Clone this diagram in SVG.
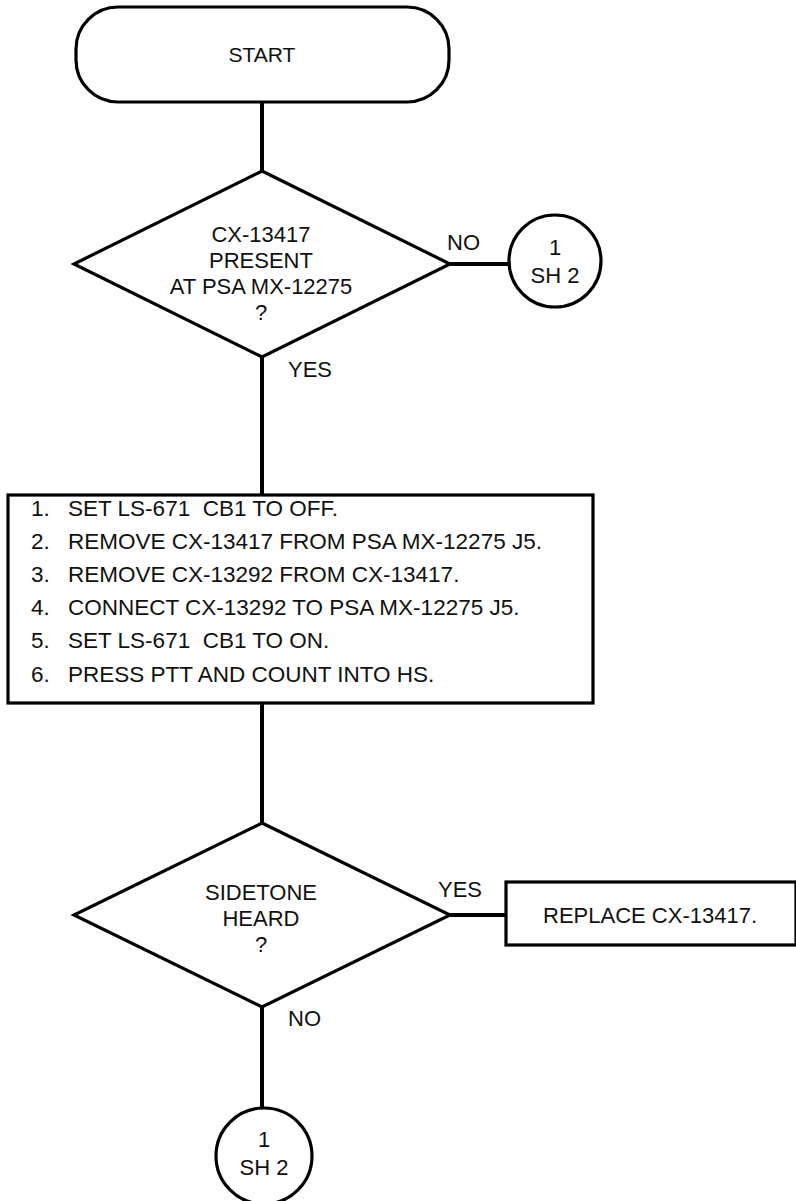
<svg xmlns="http://www.w3.org/2000/svg" width="796" height="1201" viewBox="0 0 796 1201">
<style>
.s{fill:#fff;stroke:#000;stroke-width:3.2;stroke-linejoin:miter}
.c{fill:none;stroke:#000;stroke-width:4}
text{font-family:"Liberation Sans",Arial,sans-serif;font-size:22px;fill:#111}
.m{text-anchor:middle}
.i{font-size:22.5px}
</style>
<rect width="796" height="1201" fill="#fff"/>
<g id="connectors">
<line class="c" x1="262" y1="102" x2="262" y2="172"/>
<line class="c" x1="450" y1="264" x2="509" y2="264"/>
<line class="c" x1="262" y1="357" x2="262" y2="496"/>
<line class="c" x1="262" y1="703" x2="262" y2="824"/>
<line class="c" x1="450" y1="915" x2="507" y2="915"/>
<line class="c" x1="262" y1="1007" x2="262" y2="1109"/>
<text x="447" y="250">NO</text>
<text x="288" y="377">YES</text>
<text x="438" y="897">YES</text>
<text x="288" y="1026">NO</text>
</g>
<g id="start">
<rect class="s" x="76" y="7" width="373" height="95" rx="42" ry="42"/>
<text class="m" x="262" y="62" style="font-size:21px">START</text>
</g>
<g id="decision1">
<polygon class="s" points="262,171 450,264 262,357 74,264"/>
<text class="m" x="261" y="242">CX-13417</text>
<text class="m" x="261" y="268">PRESENT</text>
<text class="m" x="261" y="294">AT PSA MX-12275</text>
<text class="m" x="261" y="320">?</text>
</g>
<g id="offpage1">
<circle class="s" cx="555" cy="261" r="46"/>
<text class="m" x="555" y="255">1</text>
<text class="m" x="555" y="283">SH 2</text>
</g>
<g id="steps">
<rect class="s" x="8" y="495" width="585" height="208"/>
<text class="i" x="31" y="516">1.</text><text class="i" x="68" y="516" xml:space="preserve">SET LS-671  CB1 TO OFF.</text>
<text class="i" x="31" y="549">2.</text><text class="i" x="68" y="549">REMOVE CX-13417 FROM PSA MX-12275 J5.</text>
<text class="i" x="31" y="582">3.</text><text class="i" x="68" y="582">REMOVE CX-13292 FROM CX-13417.</text>
<text class="i" x="31" y="615">4.</text><text class="i" x="68" y="615">CONNECT CX-13292 TO PSA MX-12275 J5.</text>
<text class="i" x="31" y="648">5.</text><text class="i" x="68" y="648" xml:space="preserve">SET LS-671  CB1 TO ON.</text>
<text class="i" x="31" y="682">6.</text><text class="i" x="68" y="682">PRESS PTT AND COUNT INTO HS.</text>
</g>
<g id="decision2">
<polygon class="s" points="262,823 450,915 262,1007 74,915"/>
<text class="m" x="261" y="900">SIDETONE</text>
<text class="m" x="261" y="926">HEARD</text>
<text class="m" x="261" y="952">?</text>
</g>
<g id="replace">
<rect class="s" x="506" y="882" width="290" height="63"/>
<text x="543" y="923">REPLACE CX-13417.</text>
</g>
<g id="offpage2">
<circle class="s" cx="264" cy="1156" r="48"/>
<text class="m" x="264" y="1147">1</text>
<text class="m" x="264" y="1175">SH 2</text>
</g>
</svg>
